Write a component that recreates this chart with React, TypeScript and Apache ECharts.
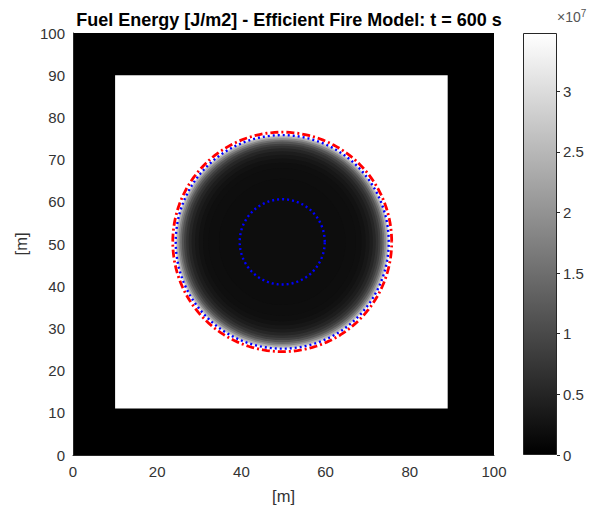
import React, { useEffect, useRef } from "react";
import * as echarts from "echarts";

// ---- data ----
const domainMax = 100; // m
const fuelMax = 3.48e7; // J/m2, unburnt fuel (white) = colour-bar top
const borderValue = 0; // outer band (black)
const domainBox = [0, 0, 100, 100]; // x0, y0, x1, y1 [m]
const fuelSquare = [10, 11, 89, 90]; // x0, y0, x1, y1 [m]
const fireCenter = [49.7, 50.5]; // [m]
// remaining fuel inside the burnt disk, read outward-in: band outer radius [m] -> value [J/m2]
const profileR = [25.3, 25.0, 24.6, 24.2, 23.8, 23.3, 22.8, 22.2, 21.5, 20.7, 19.8, 18.8, 17.5, 15.0];
const profileV = [2.9e7, 2.4e7, 1.9e7, 1.5e7, 1.15e7, 8.8e6, 6.8e6, 5.2e6, 4.0e6, 3.1e6, 2.5e6, 2.1e6, 1.85e6, 1.77e6];
// front contours [m]
const redFrontRadius = 26.0;
const blueFrontRadius = 25.3;
const blueInnerRadius = 10.1;
const colorbarTicks = [0, 0.5, 1, 1.5, 2, 2.5, 3]; // x 1e7

const rectData = [
  [...domainBox, borderValue],
  [...fuelSquare, fuelMax],
];
const diskData = profileR.map((r, k) => [fireCenter[0], fireCenter[1], r, profileV[k]]);

function gray(v: number): string {
  const g = Math.max(0, Math.min(255, Math.round((v / fuelMax) * 255)));
  return `rgb(${g},${g},${g})`;
}

function circle(c: number[], r: number): number[][] {
  const pts: number[][] = [];
  for (let a = 0; a <= 360; a += 2) {
    const t = (a * Math.PI) / 180;
    pts.push([c[0] + r * Math.cos(t), c[1] + r * Math.sin(t)]);
  }
  return pts;
}

const FONT = "'Liberation Sans', Arial, Helvetica, sans-serif";
const AX = "#262626";
const LBL = "#333333";

export default function App() {
  const ref = useRef<HTMLDivElement>(null);
  useEffect(() => {
    document.body.style.margin = "0";
    const chart = echarts.init(ref.current!, null, { renderer: "svg" });
    const option: any = {
      animation: false,
      backgroundColor: "#ffffff",
      textStyle: { fontFamily: FONT },
      title: {
        text: "Fuel Energy [J/m2] - Efficient Fire Model: t = 600 s",
        left: 284,
        textAlign: "center",
        top: 6,
        textStyle: { fontFamily: FONT, fontSize: 18, fontWeight: "bold", color: "#000" },
      },
      grid: [
        { left: 73, top: 33, width: 421, height: 422 },
        { left: 523, top: 33, width: 34, height: 422 },
      ],
      xAxis: [
        {
          type: "value",
          gridIndex: 0,
          min: 0,
          max: domainMax,
          interval: 20,
          position: "bottom",
          z: 10,
          axisLine: { show: true, lineStyle: { color: AX, width: 1 } },
          axisTick: { show: false },
          splitLine: { show: false },
          axisLabel: { color: LBL, fontSize: 15, margin: 9, fontFamily: FONT },
          name: "[m]",
          nameLocation: "middle",
          nameGap: 32,
          nameTextStyle: { color: LBL, fontSize: 16.5, fontFamily: FONT },
        },
        { type: "category", gridIndex: 1, data: [""], show: false },
      ],
      yAxis: [
        {
          type: "value",
          gridIndex: 0,
          min: 0,
          max: domainMax,
          interval: 10,
          position: "left",
          z: 10,
          axisLine: { show: true, lineStyle: { color: AX, width: 1 } },
          axisTick: { show: false },
          splitLine: { show: false },
          axisLabel: { color: LBL, fontSize: 15, margin: 8, fontFamily: FONT },
          name: "[m]",
          nameLocation: "middle",
          nameGap: 40,
          nameTextStyle: { color: LBL, fontSize: 16.5, fontFamily: FONT },
        },
        {
          type: "value",
          gridIndex: 1,
          min: 0,
          max: fuelMax,
          interval: 5e6,
          position: "right",
          z: 10,
          axisLine: { show: false },
          axisTick: { show: true, inside: false, length: 3, lineStyle: { color: AX } },
          splitLine: { show: false },
          axisLabel: {
            color: LBL,
            fontSize: 15,
            margin: 6,
            fontFamily: FONT,
            showMaxLabel: false,
            formatter: (v: number) => {
              const t = v / 1e7;
              return colorbarTicks.some((c) => Math.abs(c - t) < 1e-9) ? String(t) : "";
            },
          },
        },
      ],
      series: [
        {
          type: "custom",
          xAxisIndex: 0,
          yAxisIndex: 0,
          data: rectData,
          encode: { x: [0, 2], y: [1, 3] },
          z: 1,
          renderItem: (params: any, api: any) => {
            const p0 = api.coord([api.value(0), api.value(1)]);
            const p1 = api.coord([api.value(2), api.value(3)]);
            return {
              type: "rect",
              shape: {
                x: Math.min(p0[0], p1[0]),
                y: Math.min(p0[1], p1[1]),
                width: Math.abs(p1[0] - p0[0]),
                height: Math.abs(p1[1] - p0[1]),
              },
              style: { fill: gray(api.value(4)) },
            };
          },
        },
        {
          type: "custom",
          xAxisIndex: 0,
          yAxisIndex: 0,
          data: diskData,
          encode: { x: 0, y: 1 },
          z: 2,
          renderItem: (params: any, api: any) => {
            const c = api.coord([api.value(0), api.value(1)]);
            const s = api.size([api.value(2), api.value(2)]);
            return {
              type: "circle",
              shape: { cx: c[0], cy: c[1], r: (s[0] + s[1]) / 2 },
              style: { fill: gray(api.value(3)) },
            };
          },
        },
        {
          type: "line",
          xAxisIndex: 0,
          yAxisIndex: 0,
          data: circle(fireCenter, redFrontRadius),
          showSymbol: false,
          symbol: "none",
          lineStyle: { color: "#ff0000", width: 2.8, type: [8, 3, 2, 3] },
          z: 5,
        },
        {
          type: "line",
          xAxisIndex: 0,
          yAxisIndex: 0,
          data: circle(fireCenter, blueFrontRadius),
          showSymbol: false,
          symbol: "none",
          lineStyle: { color: "#0000ff", width: 2.4, type: [2, 3] },
          z: 6,
        },
        {
          type: "line",
          xAxisIndex: 0,
          yAxisIndex: 0,
          data: circle(fireCenter, blueInnerRadius),
          showSymbol: false,
          symbol: "none",
          lineStyle: { color: "#0000ff", width: 2.4, type: [2, 3] },
          z: 6,
        },
        {
          type: "bar",
          xAxisIndex: 1,
          yAxisIndex: 1,
          data: [fuelMax],
          barWidth: "100%",
          itemStyle: {
            color: new echarts.graphic.LinearGradient(0, 1, 0, 0, [
              { offset: 0, color: "#000000" },
              { offset: 1, color: "#ffffff" },
            ]),
            borderColor: AX,
            borderWidth: 1,
          },
          emphasis: { disabled: true },
        },
      ],
      graphic: [
        {
          type: "text",
          left: 557,
          top: 8,
          style: {
            text: "×10{s|7}",
            fill: "#555",
            fontSize: 14,
            fontFamily: FONT,
            rich: { s: { fontSize: 10, verticalAlign: "top", padding: [0, 0, 8, 0], fill: "#555", fontFamily: FONT } },
          },
        },
      ],
    };
    chart.setOption(option);
    return () => chart.dispose();
  }, []);
  return <div ref={ref} style={{ width: 610, height: 509 }} />;
}
